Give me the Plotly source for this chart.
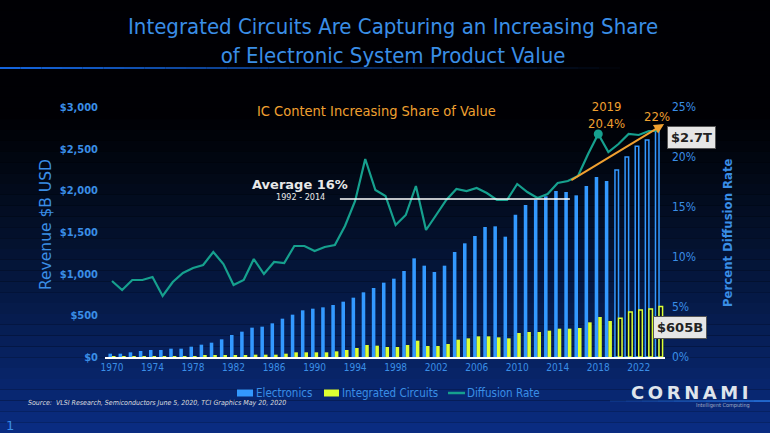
import plotly.graph_objects as go

years = list(range(1970, 2025))
electronics = [40, 40, 56, 72, 84, 84, 100, 100, 124, 148, 172, 212, 264, 304, 352, 364, 404, 460, 508, 560,
               580, 596, 624, 664, 712, 776, 828, 892, 940, 1032, 1184, 1096, 1020, 1096, 1260, 1364, 1452, 1560,
               1568, 1444, 1708, 1824, 1888, 1928, 1992, 1980, 1940, 2052, 2160, 2112, 2244, 2400, 2528, 2604, 2728]
ics = [3, 3, 4, 5, 6, 6, 8, 9, 11, 13, 16, 16, 16, 18, 28, 28, 28, 40, 56, 56,
       56, 56, 68, 84, 108, 144, 136, 120, 120, 144, 196, 132, 132, 156, 208, 224, 248, 248,
       236, 224, 288, 300, 300, 316, 340, 340, 348, 416, 480, 432, 464, 540, 564, 576, 605]
diffusion = [7.6, 6.7, 7.7, 7.7, 8.0, 6.1, 7.5, 8.4, 8.9, 9.2, 10.5, 9.3, 7.2, 7.7, 9.8, 8.3, 9.5, 9.4, 11.1, 11.1,
             10.6, 11.0, 11.2, 13.1, 15.6, 19.8, 16.7, 16.1, 13.2, 14.2, 17.1, 12.7, 14.2, 15.7, 16.8, 16.6, 16.9, 16.4,
             15.7, 15.7, 17.3, 16.5, 15.9, 16.3, 17.4, 17.6, 18.1, 20.3, 22.3, 20.5, 21.3, 22.3, 22.2, 22.6, 22.6]
series_names = ["Electronics", "Integrated Circuits", "Diffusion Rate"]
forecast_from = 2020
marker_year = 2018
avg_start, avg_end, avg_value = 1992.5, 2015.2, 15.8
trend_start = (2015.2, 17.6)
trend_end = (2024.5, 23.3)
left_ticks = [0, 500, 1000, 1500, 2000, 2500, 3000]
left_labels = ["$0", "$500", "$1,000", "$1,500", "$2,000", "$2,500", "$3,000"]
right_ticks = [0, 5, 10, 15, 20, 25]
right_labels = ["0%", "5%", "10%", "15%", "20%", "25%"]
x_ticks = list(range(1970, 2023, 4))

BLUE = "#3399ff"
YELLOW = "#ddff33"
TEAL = "#16a08e"
ORANGE = "#f0a030"
TXT = "#3a8ee6"
BG_FILL = "#040c22"

is_fc = [y >= forecast_from for y in years]
fig = go.Figure()
fig.add_trace(go.Bar(
    x=years, y=electronics, name=series_names[0], showlegend=False,
    marker=dict(color=[BG_FILL if f else BLUE for f in is_fc],
                line=dict(color=BLUE, width=[1.5 if f else 0 for f in is_fc])),
))
fig.add_trace(go.Bar(
    x=years, y=ics, name=series_names[1], showlegend=False,
    marker=dict(color=[BG_FILL if f else YELLOW for f in is_fc],
                line=dict(color=YELLOW, width=[1.5 if f else 0 for f in is_fc])),
))
fig.add_trace(go.Scatter(
    x=years, y=diffusion, name=series_names[2], yaxis="y2", mode="lines", showlegend=False,
    line=dict(color=TEAL, width=2.2),
))
mi = years.index(marker_year)
fig.add_trace(go.Scatter(
    x=[years[mi]], y=[diffusion[mi]], yaxis="y2", mode="markers", showlegend=False,
    marker=dict(color=TEAL, size=9),
))

W, H = 770, 433
L, R, T, B = 105, 105, 107, 76
pw, ph = W - L - R, H - T - B


def px(x):
    return (x - L) / pw


def py(y):
    return (H - B - y) / ph


shapes = []
# background gradient
n = 40
for i in range(n):
    f = i / (n - 1)
    g = max(0.0, (f - 0.25) / 0.75)
    r = int(0 + 10 * g)
    gg = int(0 + 44 * g)
    b = int(4 + 125 * g ** 1.2)
    shapes.append(dict(type="rect", xref="paper", yref="paper", layer="below",
                       x0=px(0), x1=px(W), y0=py(H * (i + 1) / n), y1=py(H * i / n),
                       fillcolor=f"rgb({r},{gg},{b})", line=dict(width=0)))
# title underline fading
seg = 30
for i in range(seg):
    x0 = 620 * i / seg
    x1 = 620 * (i + 1) / seg
    op = 1 - i / seg
    shapes.append(dict(type="line", xref="paper", yref="paper", x0=px(x0), x1=px(x1), y0=py(68), y1=py(68),
                       line=dict(color=f"rgba(20,100,220,{op:.2f})", width=2)))
# logo line
for i in range(10):
    x0 = 610 + 16 * i
    shapes.append(dict(type="line", xref="paper", yref="paper", x0=px(x0), x1=px(x0 + 16), y0=py(401),
                       y1=py(401), line=dict(color=f"rgba(40,120,230,{0.15 + 0.07 * i:.2f})", width=2)))
# average line
shapes.append(dict(type="line", xref="x", yref="y2", x0=avg_start, x1=avg_end, y0=avg_value, y1=avg_value,
                   line=dict(color="white", width=1.5)))

ann = []


def text(t, x, y, size, color, family="DejaVu Sans Condensed", **kw):
    d = dict(text=t, xref="paper", yref="paper", x=px(x), y=py(y), showarrow=False,
             xanchor=kw.pop("xanchor", "center"), yanchor="middle",
             font=dict(family=family, size=size, color=color))
    d.update(kw)
    ann.append(d)


# custom legend
leg_y = 393
shapes.append(dict(type="rect", xref="paper", yref="paper", x0=px(237), x1=px(253), y0=py(396.5), y1=py(389.5),
                   fillcolor=BLUE, line=dict(width=0)))
text(series_names[0], 254, leg_y, 11.5, TXT, xanchor="left")
shapes.append(dict(type="rect", xref="paper", yref="paper", x0=px(324), x1=px(339), y0=py(396.5), y1=py(389.5),
                   fillcolor=YELLOW, line=dict(width=0)))
text(series_names[1], 340, leg_y, 11.5, TXT, xanchor="left")
shapes.append(dict(type="line", xref="paper", yref="paper", x0=px(448), x1=px(465), y0=py(leg_y), y1=py(leg_y),
                   line=dict(color=TEAL, width=2.5)))
text(series_names[2], 465, leg_y, 11.5, TXT, xanchor="left")

text("Integrated Circuits Are Capturing an Increasing Share<br>of Electronic System Product Value",
     393, 41, 22, TXT, align="center")
text("IC Content Increasing Share of Value", 376, 111, 14.5, ORANGE)
text("<b>Average 16%</b>", 300, 184, 13, "#e8e8e8", family="DejaVu Sans")
text("1992 - 2014", 300, 197, 9, "#e8e8e8")
text("2019<br>20.4%", 606, 115, 13, ORANGE, align="center")
text("22%", 657, 116, 13, ORANGE)
ann.append(dict(x=trend_end[0], y=trend_end[1], ax=trend_start[0], ay=trend_start[1], xref="x", yref="y2",
                axref="x", ayref="y2", showarrow=True, arrowhead=2, arrowsize=1, arrowwidth=2,
                arrowcolor=ORANGE, text=""))
text("<b>$2.7T</b>", 691, 137, 13, "#222222", family="DejaVu Sans", bgcolor="#e6e6e6",
     bordercolor="#555555", borderwidth=1, borderpad=3)
text("<b>$605B</b>", 680, 327, 13, "#222222", family="DejaVu Sans", bgcolor="#e6e6e6",
     bordercolor="#555555", borderwidth=1, borderpad=3)
text("Revenue $B USD", 46, 225, 15.5, TXT, family="DejaVu Sans", textangle=-90)
text("<b>Percent Diffusion Rate</b>", 727, 233, 13, TXT, textangle=-90)
text("<i>Source:  VLSI Research, Semiconductors June 5, 2020, TCI Graphics May 20, 2020</i>",
     26, 403, 7, "#dddddd", xanchor="left")
text("1", 10, 425, 13, TXT, family="DejaVu Sans")
text("<b>C\u2009O\u2009R\u2009N\u2009A\u2009M\u2009I</b>", 690, 392, 18, "#dfe4ec", family="DejaVu Sans")
text("Intelligent Computing", 752, 405, 5.5, "#a0aec8", xanchor="right")

fig.update_layout(
    width=W, height=H, margin=dict(l=L, r=R, t=T, b=B),
    paper_bgcolor="#000000", plot_bgcolor="rgba(0,0,0,0)",
    barmode="group", bargap=0.3, bargroupgap=0.0,
    shapes=shapes, annotations=ann, showlegend=False,
    xaxis=dict(range=[1969.31, 2024.59], tickvals=x_ticks, ticktext=[str(v) for v in x_ticks],
               showgrid=False, zeroline=False, showline=True, linecolor="white", linewidth=1.5,
               ticks="", tickfont=dict(family="DejaVu Sans Condensed", size=10, color=TXT)),
    yaxis=dict(range=[0, 3000], tickvals=left_ticks, ticktext=["<b>%s</b>" % t for t in left_labels],
               showgrid=False, zeroline=False, ticks="", ticklabelstandoff=6,
               tickfont=dict(family="DejaVu Sans Condensed", size=11, color=TXT)),
    yaxis2=dict(range=[0, 25], overlaying="y", side="right", tickvals=right_ticks, ticktext=right_labels,
                showgrid=False, zeroline=False, ticks="", ticklabelstandoff=6,
                tickfont=dict(family="DejaVu Sans Condensed", size=12, color=TXT)),
)
fig.write_html("out.html", config={"displayModeBar": False},
               post_script="document.body.style.margin='0';document.body.style.background='#000';")
